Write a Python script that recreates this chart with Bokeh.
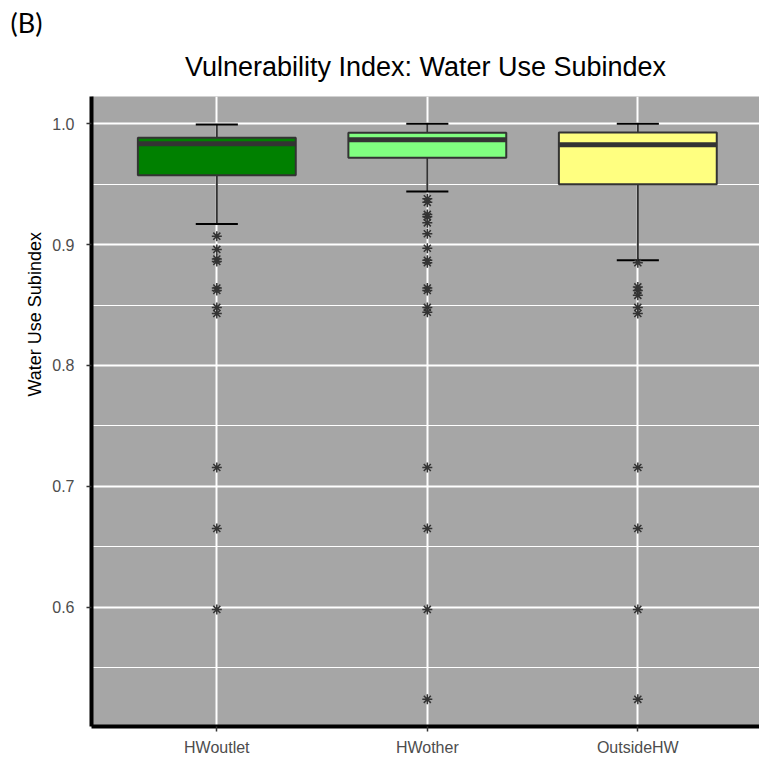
from bokeh.plotting import figure
from bokeh.models import FixedTicker, Title, ColumnDataSource
from bokeh.embed import file_html
from bokeh.resources import INLINE

# ---- data ----
categories = ["HWoutlet", "HWother", "OutsideHW"]
fill_colors = ["#008000", "#80ff80", "#ffff80"]
whisker_low = [0.917, 0.944, 0.887]
q1 = [0.9575, 0.972, 0.950]
median = [0.9835, 0.9868, 0.9826]
q3 = [0.9884, 0.9926, 0.9928]
whisker_high = [0.9994, 1.0, 1.0]
outliers_hwoutlet = [0.907, 0.896, 0.888, 0.886, 0.864, 0.862, 0.848, 0.843, 0.7155, 0.665, 0.598]
outliers_hwother = [0.938, 0.935, 0.925, 0.923, 0.918, 0.909, 0.897, 0.887, 0.885, 0.864, 0.862,
                    0.848, 0.844, 0.7155, 0.665, 0.598, 0.5236]
outliers_outsidehw = [0.885, 0.865, 0.862, 0.858, 0.848, 0.843, 0.7155, 0.665, 0.598, 0.5236]
y_ticks = [0.6, 0.7, 0.8, 0.9, 1.0]
y_minor = [0.55, 0.65, 0.75, 0.85, 0.95]

xs = [i + 1 for i in range(len(categories))]
box_w = 0.75
cap_w = 0.2

p = figure(width=759, height=758, x_range=(0.4047, 3.578), y_range=(0.5011, 1.0226),
           output_backend="svg", toolbar_location=None,
           min_border_left=91, min_border_right=0, min_border_bottom=31, min_border_top=96)
p.title = None

t_main = Title(text="Vulnerability Index: Water Use Subindex", align="center",
               text_font="Liberation Sans", text_font_size="27px", text_font_style="normal",
               text_color="#000000", standoff=29)
t_b = Title(text="(B)", align="left", offset=-81, text_font="Lato",
            text_font_size="27px", text_font_style="normal", text_color="#000000", standoff=-6)
p.add_layout(t_main, "above")
p.add_layout(t_b, "above")

t_y = Title(text="Water Use Subindex", align="left", offset=330,
            text_font="Liberation Sans", text_font_size="18px", text_font_style="normal",
            text_color="#000000", standoff=10)
p.add_layout(t_y, "left")

p.background_fill_color = "#a6a6a6"
p.border_fill_color = "white"
p.outline_line_color = None

# grids
p.xgrid.grid_line_color = "white"
p.xgrid.grid_line_width = 2
p.ygrid.grid_line_color = "white"
p.ygrid.grid_line_width = 2
p.ygrid.minor_grid_line_color = "white"
p.ygrid.minor_grid_line_width = 1

# axes
p.xaxis.ticker = FixedTicker(ticks=xs)
p.xaxis.major_label_overrides = {x: c for x, c in zip(xs, categories)}
p.yaxis.ticker = FixedTicker(ticks=y_ticks, minor_ticks=y_minor)
p.yaxis.major_label_overrides = {t: f"{t:.1f}" for t in y_ticks}
for ax in (p.xaxis, p.yaxis):
    ax.axis_line_color = "black"
    ax.axis_line_width = 4
    ax.major_tick_line_color = "#333333"
    ax.major_tick_line_width = 1.5
    ax.major_tick_out = 5
    ax.major_tick_in = 0
    ax.minor_tick_line_color = None
    ax.major_label_text_color = "#4d4d4d"
    ax.major_label_text_font = "Liberation Sans"
    ax.major_label_text_font_size = "16px"
p.xaxis.major_label_standoff = 7
p.yaxis.major_label_standoff = 12

src = ColumnDataSource(dict(x=xs, lo=whisker_low, q1=q1, med=median, q3=q3, hi=whisker_high,
                            color=fill_colors,
                            cl=[x - cap_w / 2 for x in xs], cr=[x + cap_w / 2 for x in xs],
                            bl=[x - box_w / 2 for x in xs], br=[x + box_w / 2 for x in xs]))

# whiskers
p.segment(x0="x", y0="q3", x1="x", y1="hi", source=src, line_color="#333333", line_width=2)
p.segment(x0="x", y0="q1", x1="x", y1="lo", source=src, line_color="#333333", line_width=2)
# caps
p.segment(x0="cl", y0="hi", x1="cr", y1="hi", source=src, line_color="black", line_width=2)
p.segment(x0="cl", y0="lo", x1="cr", y1="lo", source=src, line_color="black", line_width=2)
# boxes
p.vbar(x="x", width=box_w, bottom="q1", top="q3", source=src, fill_color="color",
       line_color="#333333", line_width=2)
# medians
p.segment(x0="bl", y0="med", x1="br", y1="med", source=src, line_color="#333333", line_width=5)

# outliers
out_x, out_y = [], []
for x, vals in zip(xs, [outliers_hwoutlet, outliers_hwother, outliers_outsidehw]):
    out_x += [x] * len(vals)
    out_y += vals
p.scatter(out_x, out_y, marker="asterisk", size=10, line_color="#333333", line_width=1.5)

open("out.html", "w").write(file_html(p, INLINE))
